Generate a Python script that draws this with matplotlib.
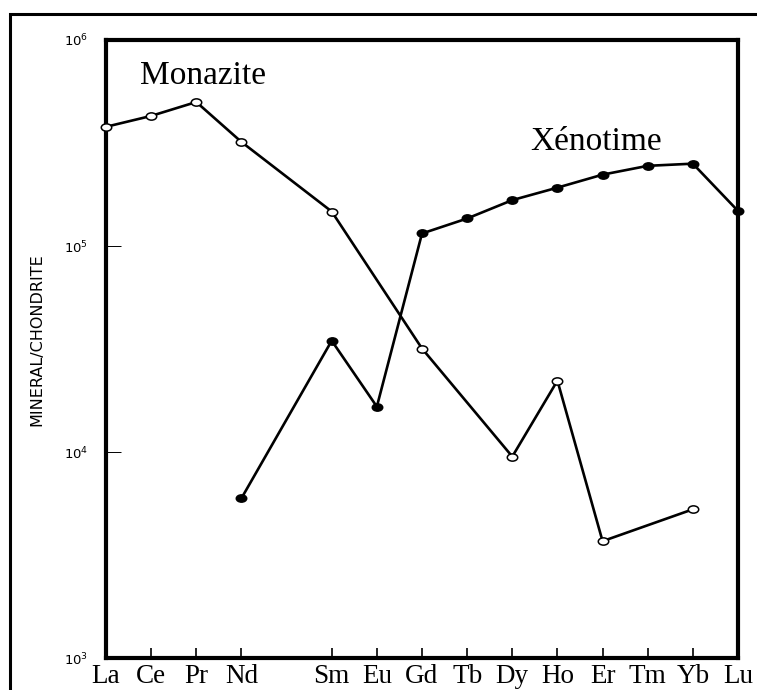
import matplotlib.pyplot as plt
import matplotlib.patches as patches
from matplotlib.path import Path
import numpy as np

# REE positions by atomic number (Pm = 61 left blank)
elements = ["La", "Ce", "Pr", "Nd", "Sm", "Eu", "Gd", "Tb", "Dy", "Ho", "Er", "Tm", "Yb", "Lu"]
atomic_num = [57, 58, 59, 60, 62, 63, 64, 65, 66, 67, 68, 69, 70, 71]

# Monazite, chondrite-normalised
monazite_z = [57, 58, 59, 60, 62, 64, 66, 67, 68, 70]
monazite_val = [3.79e5, 4.28e5, 5.0e5, 3.2e5, 1.47e5, 3.18e4, 9.5e3, 2.22e4, 3.69e3, 5.27e3]

# Xenotime, chondrite-normalised
xenotime_z = [60, 62, 63, 64, 65, 66, 67, 68, 69, 70, 71]
xenotime_val = [5.96e3, 3.47e4, 1.66e4, 1.15e5, 1.36e5, 1.67e5, 1.92e5, 2.22e5, 2.45e5, 2.51e5, 1.48e5]

# slightly flattened circle marker
circ = Path.unit_circle()
ellipse = Path(circ.vertices * np.array([1.0, 0.7]), circ.codes)

fig = plt.figure(figsize=(7.57, 6.9), dpi=100)
ax = fig.add_axes([106 / 757, 1 - 658 / 690, (738 - 106) / 757, (658 - 40) / 690])

ax.plot(monazite_z, monazite_val, color="black", lw=1.9, marker=ellipse, ms=7.5,
        mfc="white", mec="black", mew=1.1, clip_on=False, zorder=3)
ax.plot(xenotime_z, xenotime_val, color="black", lw=1.9, marker=ellipse, ms=7.5,
        mfc="black", mec="black", mew=1.1, clip_on=False, zorder=3)

ax.set_yscale("log")
ax.set_xlim(57, 71)
ax.set_ylim(1e3, 1e6)

ax.set_xticks(atomic_num)
ax.set_xticklabels(elements, family="Liberation Serif", fontsize=19.5)
ax.tick_params(axis="x", direction="in", length=7, width=1.2, pad=4)

ax.set_yticks([1e3, 1e4, 1e5, 1e6])
ax.set_yticklabels(["$10^{3}$", "$10^{4}$", "$10^{5}$", "$10^{6}$"], fontsize=9.5)
ax.yaxis.set_minor_locator(plt.NullLocator())
ax.tick_params(axis="y", direction="in", length=11, width=0.7, pad=13)

for s in ax.spines.values():
    s.set_linewidth(3)

ax.set_ylabel("MINERAL/CHONDRITE", fontsize=11.5)
ax.yaxis.set_label_coords(-0.097, 0.515)

ax.text(57.75, 6.12e5, "Monazite", family="Liberation Serif", fontsize=24,
        ha="left", va="baseline")
ax.text(66.39, 2.93e5, "Xénotime", family="Liberation Serif", fontsize=24,
        ha="left", va="baseline")

# outer frame around the whole figure
frame = patches.Rectangle((10 / 757, -0.1), 1.2, 1 - 14 / 690 + 0.1,
                          transform=fig.transFigure, fill=False, lw=2.2,
                          edgecolor="black", clip_on=False)
fig.patches.append(frame)

fig.savefig("out.png", dpi=100)
